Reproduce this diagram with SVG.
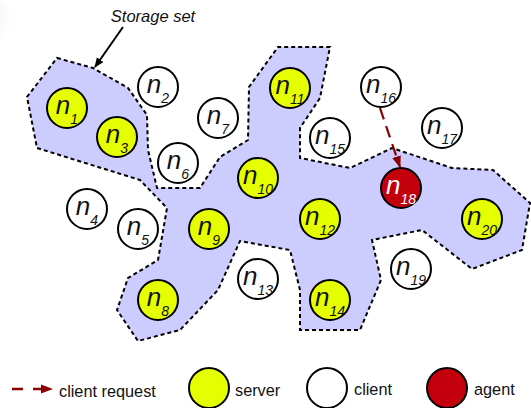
<svg xmlns="http://www.w3.org/2000/svg" width="531" height="408" viewBox="0 0 531 408">
<defs>
<radialGradient id="vg" cx="-18" cy="18" r="34" gradientUnits="userSpaceOnUse"><stop offset="0" stop-color="#bbb" stop-opacity="0.6"/><stop offset="1" stop-color="#fff" stop-opacity="0"/></radialGradient>
<marker id="ab" markerWidth="10" markerHeight="10" refX="9" refY="5" orient="auto" markerUnits="userSpaceOnUse"><path d="M0,1 L10,5 L0,9 Z" fill="#000"/></marker>
<marker id="ar" markerWidth="12" markerHeight="10" refX="11" refY="5" orient="auto" markerUnits="userSpaceOnUse"><path d="M0,0.5 L12,5 L0,9.5 Z" fill="#8b0000"/></marker>
<style>
.n{stroke:#000;stroke-width:2}
.s{fill:#e5ff00}
.c{fill:#fff}
.a{fill:#c4000c}
.t{font-family:"Liberation Sans",Arial,sans-serif;font-style:italic;font-size:26px;fill:#111;text-anchor:middle}
.t tspan{font-size:14px}
.w{fill:#fff}
.lg{font-family:"Liberation Sans",Arial,sans-serif;font-size:16.3px;fill:#111}
</style>
</defs>
<rect x="0" y="0" width="40" height="60" fill="url(#vg)"/>
<path id="storage-set" d="M57,58 L93,68 L128,88 L147,115 L148,150 L157,188 L200,188 L220,157 L248,140 L249,87 L278,47 L330,47 L320,98 L300,128 L300,158 L350,168 L392,148 L452,168 L493,170 L530,203 L522,250 L472,269 L422,230 L372,240 L381,280 L360,330 L300,330 L300,290 L290,250 L240,241 L218,290 L180,330 L138,341 L117,310 L128,278 L158,260 L167,208 L140,180 L37,148 L27,97 Z" fill="#ccccff" stroke="#000" stroke-width="2" stroke-dasharray="4,3"/>
<text x="153" y="22" font-family="Liberation Sans,Arial,sans-serif" font-style="italic" font-size="16.5" fill="#111" text-anchor="middle">Storage set</text>
<g id="connectors">
<line x1="123" y1="27" x2="95" y2="67" stroke="#000" stroke-width="2" marker-end="url(#ab)"/>
<line x1="380" y1="108" x2="400" y2="167" stroke="#8b0000" stroke-width="2.2" stroke-dasharray="12,7" marker-end="url(#ar)"/>
</g>
<g id="n1"><circle class="n s" cx="67" cy="108" r="20"/><text class="t" x="67" y="114">n<tspan dy="10">1</tspan></text></g>
<g id="n2"><circle class="n c" cx="158" cy="87" r="20"/><text class="t" x="158" y="93">n<tspan dy="10">2</tspan></text></g>
<g id="n3"><circle class="n s" cx="117" cy="137" r="20"/><text class="t" x="117" y="143">n<tspan dy="10">3</tspan></text></g>
<g id="n4"><circle class="n c" cx="87" cy="209" r="20"/><text class="t" x="87" y="215">n<tspan dy="10">4</tspan></text></g>
<g id="n5"><circle class="n c" cx="138" cy="229" r="20"/><text class="t" x="138" y="235">n<tspan dy="10">5</tspan></text></g>
<g id="n6"><circle class="n c" cx="178" cy="163" r="20"/><text class="t" x="178" y="169">n<tspan dy="10">6</tspan></text></g>
<g id="n7"><circle class="n c" cx="218" cy="118" r="20"/><text class="t" x="218" y="124">n<tspan dy="10">7</tspan></text></g>
<g id="n8"><circle class="n s" cx="158" cy="300" r="20"/><text class="t" x="158" y="306">n<tspan dy="10">8</tspan></text></g>
<g id="n9"><circle class="n s" cx="209" cy="229" r="20"/><text class="t" x="209" y="235">n<tspan dy="10">9</tspan></text></g>
<g id="n10"><circle class="n s" cx="258" cy="178" r="20"/><text class="t" x="258" y="184">n<tspan dy="10">10</tspan></text></g>
<g id="n11"><circle class="n s" cx="290" cy="88" r="20"/><text class="t" x="290" y="94">n<tspan dy="10">11</tspan></text></g>
<g id="n12"><circle class="n s" cx="320" cy="219" r="20"/><text class="t" x="320" y="225">n<tspan dy="10">12</tspan></text></g>
<g id="n13"><circle class="n c" cx="258" cy="279" r="20"/><text class="t" x="258" y="285">n<tspan dy="10">13</tspan></text></g>
<g id="n14"><circle class="n s" cx="330" cy="300" r="20"/><text class="t" x="330" y="306">n<tspan dy="10">14</tspan></text></g>
<g id="n15"><circle class="n c" cx="330" cy="138" r="20"/><text class="t" x="330" y="144">n<tspan dy="10">15</tspan></text></g>
<g id="n16"><circle class="n c" cx="381" cy="87" r="20"/><text class="t" x="381" y="93">n<tspan dy="10">16</tspan></text></g>
<g id="n17"><circle class="n c" cx="442" cy="128" r="20"/><text class="t" x="442" y="134">n<tspan dy="10">17</tspan></text></g>
<g id="n18"><circle class="n a" cx="401" cy="188" r="20"/><text class="t w" x="401" y="194">n<tspan dy="10">18</tspan></text></g>
<g id="n19"><circle class="n c" cx="411" cy="269" r="20"/><text class="t" x="411" y="275">n<tspan dy="10">19</tspan></text></g>
<g id="n20"><circle class="n s" cx="482" cy="219" r="20"/><text class="t" x="482" y="225">n<tspan dy="10">20</tspan></text></g>
<g id="legend">
<line x1="12" y1="389" x2="52" y2="389" stroke="#8b0000" stroke-width="2.5" stroke-dasharray="11,10" marker-end="url(#ar)"/>
<text class="lg" x="59" y="397">client request</text>
<circle class="n s" cx="209" cy="388" r="20"/>
<text class="lg" x="235" y="396">server</text>
<circle class="n c" cx="327" cy="388" r="20"/>
<text class="lg" x="354" y="395">client</text>
<circle class="n a" cx="447" cy="388" r="20"/>
<text class="lg" x="474" y="395">agent</text>
</g>
</svg>
